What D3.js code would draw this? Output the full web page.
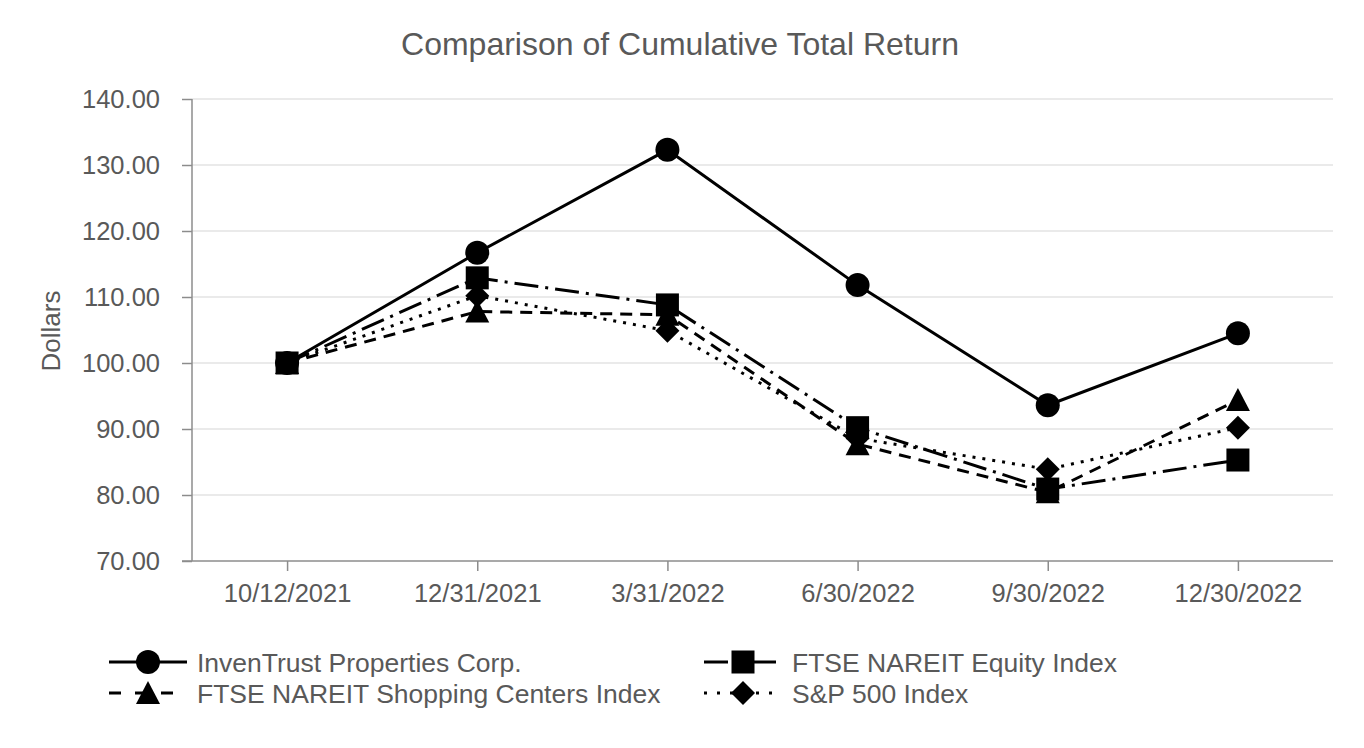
<!DOCTYPE html>
<html>
<head>
<meta charset="utf-8">
<script src="https://cdn.jsdelivr.net/npm/d3@7/dist/d3.min.js"></script>
<style>
  body { margin: 0; background: #fff; }
  text { font-family: "Liberation Sans", Arial, sans-serif; fill: #595959; }
</style>
</head>
<body>
<script>
// chart data
var dates = ["10/12/2021", "12/31/2021", "3/31/2022", "6/30/2022", "9/30/2022", "12/30/2022"];
var yTicks = [70, 80, 90, 100, 110, 120, 130, 140];
var invenTrust = [100, 116.7, 132.3, 111.8, 93.6, 104.5];
var nareitEquity = [100, 112.9, 108.8, 90.2, 80.9, 85.3];
var shoppingCenters = [100, 107.8, 107.3, 87.7, 80.4, 94.4];
var sp500 = [100, 110.2, 104.9, 88.6, 83.9, 90.2];

var series = [
  { name: "InvenTrust Properties Corp.", values: invenTrust, dash: null, marker: "circle" },
  { name: "FTSE NAREIT Equity Index", values: nareitEquity, dash: "24,7,3,7", marker: "square" },
  { name: "FTSE NAREIT Shopping Centers Index", values: shoppingCenters, dash: "12,8", marker: "triangle" },
  { name: "S&P 500 Index", values: sp500, dash: "3,7", marker: "diamond" }
];
// draw order: equity on top
var drawOrder = [0, 3, 2, 1];

var W = 1364, H = 748;
var margin = { top: 99, right: 31, bottom: 187, left: 192 };

var svg = d3.select("body").append("svg")
  .attr("width", W)
  .attr("height", H);

var x = d3.scalePoint()
  .domain(dates)
  .range([margin.left, W - margin.right])
  .padding(0.5);

var y = d3.scaleLinear()
  .domain([70, 140])
  .range([H - margin.bottom, margin.top]);

// title
svg.append("text")
  .attr("x", 680)
  .attr("y", 55)
  .attr("text-anchor", "middle")
  .style("font-size", "32px")
  .text("Comparison of Cumulative Total Return");

// gridlines
svg.append("g")
  .selectAll("line")
  .data(yTicks.filter(function (d) { return d > 70; }))
  .enter().append("line")
  .attr("x1", margin.left)
  .attr("x2", W - margin.right)
  .attr("y1", function (d) { return y(d); })
  .attr("y2", function (d) { return y(d); })
  .attr("stroke", "#e3e3e3")
  .attr("stroke-width", 1.5);

// axes
var yAxis = svg.append("g")
  .attr("transform", "translate(" + margin.left + ",0)")
  .call(d3.axisLeft(y).tickValues(yTicks).tickSize(10).tickPadding(22)
    .tickFormat(function (d) { return d3.format(".2f")(d); }));

var xAxis = svg.append("g")
  .attr("transform", "translate(0," + (H - margin.bottom) + ")")
  .call(d3.axisBottom(x).tickSize(10).tickSizeOuter(0).tickPadding(8));

[yAxis, xAxis].forEach(function (g) {
  g.select(".domain").attr("stroke", "#8c8c8c").attr("stroke-width", 1.5);
  g.selectAll(".tick line").attr("stroke", "#8c8c8c").attr("stroke-width", 1.5);
  g.selectAll(".tick text")
    .style("font-family", "'Liberation Sans', Arial, sans-serif")
    .style("font-size", "25.5px")
    .attr("fill", "#595959");
});
yAxis.select(".domain").attr("d", "M0," + y(70) + "V" + y(140));
xAxis.select(".domain").attr("d", "M" + (margin.left - 10) + ",0H" + (W - margin.right));
xAxis.selectAll(".tick text").attr("dy", "0.9em");

// y axis title
svg.append("text")
  .attr("transform", "translate(60,331) rotate(-90)")
  .attr("text-anchor", "middle")
  .style("font-size", "26px")
  .text("Dollars");

// markers
function drawMarker(g, type, cx, cy) {
  if (type === "circle") {
    g.append("circle").attr("cx", cx).attr("cy", cy).attr("r", 12).attr("fill", "#000");
  } else if (type === "square") {
    g.append("rect").attr("x", cx - 11.5).attr("y", cy - 11.5).attr("width", 23).attr("height", 23).attr("fill", "#000");
  } else if (type === "triangle") {
    g.append("path")
      .attr("d", "M" + cx + "," + (cy - 12) + "L" + (cx + 12) + "," + (cy + 11) + "L" + (cx - 12) + "," + (cy + 11) + "Z")
      .attr("fill", "#000");
  } else if (type === "diamond") {
    g.append("path")
      .attr("d", "M" + cx + "," + (cy - 12) + "L" + (cx + 12) + "," + cy + "L" + cx + "," + (cy + 12) + "L" + (cx - 12) + "," + cy + "Z")
      .attr("fill", "#000");
  }
}

var line = d3.line()
  .x(function (d, i) { return x(dates[i]); })
  .y(function (d) { return y(d); });

drawOrder.forEach(function (k) {
  var s = series[k];
  var g = svg.append("g");
  g.append("path")
    .attr("d", line(s.values))
    .attr("fill", "none")
    .attr("stroke", "#000")
    .attr("stroke-width", 3)
    .attr("stroke-dasharray", s.dash);
  s.values.forEach(function (v, i) {
    drawMarker(g, s.marker, x(dates[i]), y(v));
  });
});

// legend
var legendPos = [
  { x: 109, y: 662 },
  { x: 704, y: 662 },
  { x: 109, y: 693 },
  { x: 704, y: 693 }
];
var legendDash = [null, "24,14,3,7", "12,14", "3,10"];
series.forEach(function (s, i) {
  var p = legendPos[i];
  var g = svg.append("g");
  g.append("line")
    .attr("x1", p.x).attr("x2", p.x + 78)
    .attr("y1", p.y).attr("y2", p.y)
    .attr("stroke", "#000")
    .attr("stroke-width", 3)
    .attr("stroke-dasharray", legendDash[i]);
  drawMarker(g, s.marker, p.x + 39, p.y);
  g.append("text")
    .attr("x", p.x + 88)
    .attr("y", p.y)
    .attr("dy", "0.36em")
    .style("font-size", "26.5px")
    .text(s.name);
});
</script>
</body>
</html>
